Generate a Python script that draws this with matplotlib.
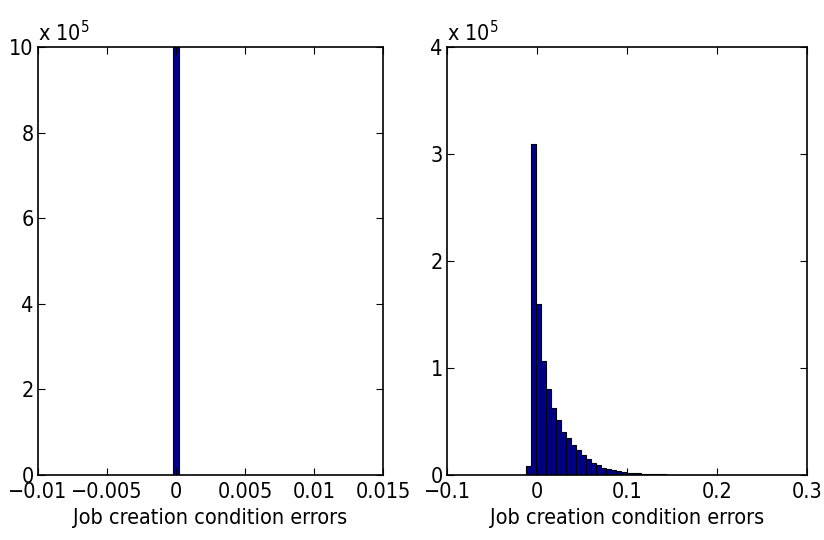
import numpy as np
import matplotlib
matplotlib.use("Agg")
import matplotlib.pyplot as plt
from matplotlib import font_manager

# left panel: all errors fall into a single bin at zero
left_centers = [0.0]
left_counts = [1.0e6]
left_width = 0.0005
left_xticks = [-0.01, -0.005, 0, 0.005, 0.01, 0.015]
left_xticklabels = ["\u22120.01", "\u22120.005", "0", "0.005", "0.01", "0.015"]
left_yticks = [0, 2, 4, 6, 8, 10]

# right panel: histogram, counts in units of 1e5
right_first_edge = -0.0126
right_width = 0.00556
right_counts = [0.084, 3.09, 1.60, 1.07, 0.80, 0.63, 0.51, 0.405, 0.343, 0.28,
                0.234, 0.187, 0.146, 0.115, 0.090, 0.068, 0.053, 0.044, 0.035, 0.028,
                0.022, 0.018, 0.015, 0.012, 0.010, 0.008, 0.0065, 0.005, 0.004, 0.0032,
                0.0025, 0.002, 0.0016, 0.0012, 0.001, 0.0008, 0.0006, 0.0005]
right_xticks = [-0.1, 0, 0.1, 0.2, 0.3]
right_xticklabels = ["\u22120.1", "0", "0.1", "0.2", "0.3"]
right_yticks = [0, 1, 2, 3, 4]

BAR_COLOR = "#00008f"

# the reference text is a narrow sans; look for a condensed face if one is installed
narrow = None
order = ["extra-condensed", "condensed", "semi-condensed"]
for st in order:
    for fe in font_manager.fontManager.ttflist:
        if fe.stretch == st and fe.weight in (400, "normal") and fe.style == "normal" \
                and fe.name in ("Liberation Sans Narrow", "Noto Sans", "DejaVu Sans",
                                "Roboto", "Open Sans", "Roboto Condensed"):
            narrow = fe
            break
    if narrow is not None:
        break

if narrow is not None:
    plt.rcParams['font.family'] = [narrow.name, 'DejaVu Sans']
    plt.rcParams['font.stretch'] = narrow.stretch
    FS = 15.5
else:
    plt.rcParams['font.family'] = ['Liberation Sans', 'DejaVu Sans']
    FS = 14.5

fig = plt.figure(figsize=(8.24, 5.4), dpi=100)
ax1 = fig.add_axes([38/824, 65/540, 345/824, 428/540])
ax2 = fig.add_axes([447/824, 65/540, 360/824, 428/540])

ax1.bar(left_centers, left_counts, width=left_width, color=BAR_COLOR,
        edgecolor="black", linewidth=0.8)
ax1.set_xlim(-0.01, 0.015)
ax1.set_ylim(0, 10e5)
ax1.set_xticks(left_xticks)
ax1.set_xticklabels(left_xticklabels)
ax1.set_yticks(np.array(left_yticks) * 1e5)
ax1.set_yticklabels([str(v) for v in left_yticks])

edges = right_first_edge + right_width * np.arange(len(right_counts))
ax2.bar(edges, np.array(right_counts) * 1e5, width=right_width, align="edge",
        color=BAR_COLOR, edgecolor="black", linewidth=0.8)
ax2.set_xlim(-0.1, 0.3)
ax2.set_ylim(0, 4e5)
ax2.set_xticks(right_xticks)
ax2.set_xticklabels(right_xticklabels)
ax2.set_yticks(np.array(right_yticks) * 1e5)
ax2.set_yticklabels([str(v) for v in right_yticks])

for ax in [ax1, ax2]:
    ax.tick_params(direction="in", length=5, width=0.8, top=True, right=True,
                   labelsize=FS, pad=5)
    ax.tick_params(axis="y", pad=3)
    for sp in ax.spines.values():
        sp.set_linewidth(1.2)
    ax.set_xlabel("Job creation condition errors", fontsize=FS, labelpad=4)
    ax.text(0.0, 1.005, r"x 10$^5$", transform=ax.transAxes, fontsize=FS,
            ha="left", va="bottom")

fig.savefig("out.png", dpi=100)
